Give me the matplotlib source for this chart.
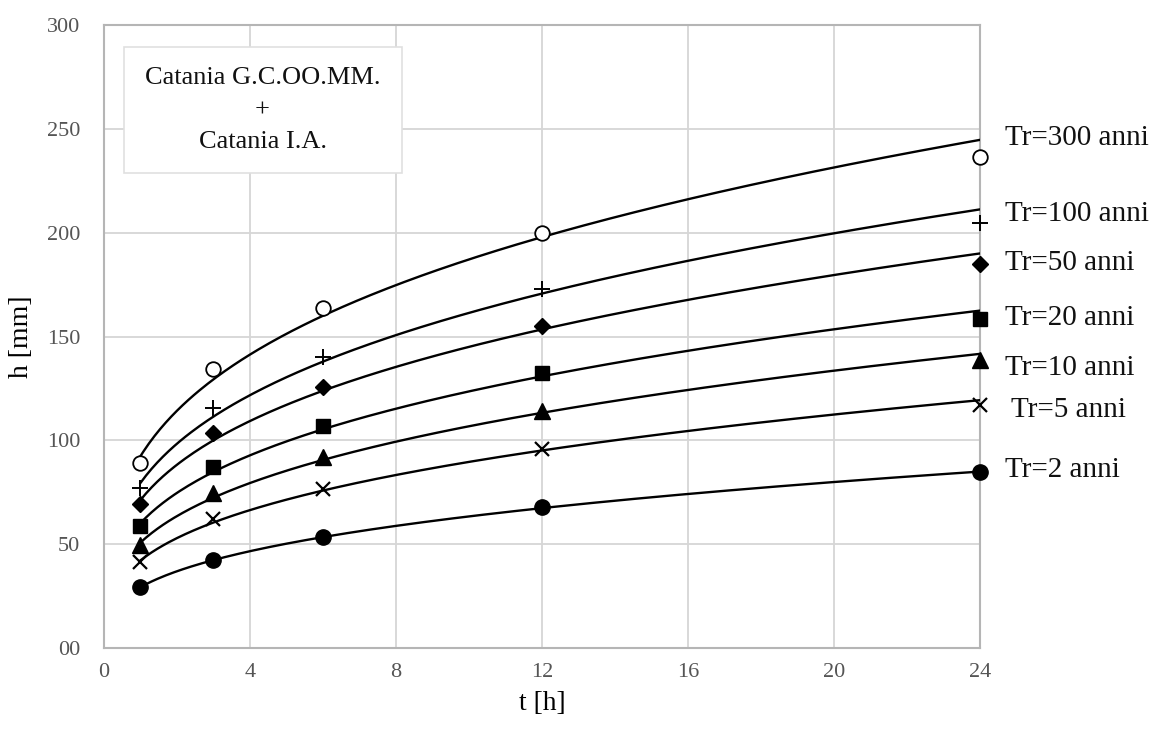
import numpy as np
import matplotlib
matplotlib.use("Agg")
import matplotlib.pyplot as plt
from matplotlib.patches import Rectangle

# durate [h]
t = np.array([1, 3, 6, 12, 24])

# altezze di pioggia [mm]
h_2 = [29.3, 42.3, 53.4, 67.8, 84.6]
h_5 = [41.3, 62.0, 76.4, 96.0, 117.0]
h_10 = [49.5, 74.5, 91.8, 114.0, 138.5]
h_20 = [58.7, 87.0, 106.7, 132.2, 158.6]
h_50 = [69.2, 103.4, 125.5, 155.0, 185.0]
h_100 = [77.0, 115.4, 140.0, 173.0, 204.8]
h_300 = [89.0, 134.6, 163.5, 200.0, 236.5]

etichette = ["Tr=2 anni", "Tr=5 anni", "Tr=10 anni", "Tr=20 anni",
             "Tr=50 anni", "Tr=100 anni", "Tr=300 anni"]
serie = [h_2, h_5, h_10, h_20, h_50, h_100, h_300]
# posizione verticale delle etichette a destra [mm]
etich_y = [85.6, 114.4, 135, 158.7, 185.6, 209, 245.7]

y_ticks = [0, 50, 100, 150, 200, 250, 300]
y_ticklab = ["00", "50", "100", "150", "200", "250", "300"]
x_ticks = [0, 4, 8, 12, 16, 20, 24]

# stile dei marker
stili = [
    dict(marker="o", ms=11, mfc="black", mec="black"),
    dict(marker="x", ms=10, mec="black", mew=1.6),
    dict(marker="^", ms=11, mfc="black", mec="black"),
    dict(marker="s", ms=10, mfc="black", mec="black"),
    dict(marker="D", ms=8.5, mfc="black", mec="black"),
    dict(marker="+", ms=12, mec="black", mew=1.4),
    dict(marker="o", ms=10.5, mfc="white", mec="black", mew=1.3),
]

serif = ["Liberation Serif", "DejaVu Serif"]

fig = plt.figure(figsize=(11.67, 7.30), dpi=100)
ax = fig.add_axes([0.0891, 0.1123, 0.7507, 0.8534])

tt = np.linspace(1, 24, 300)
for h, st in zip(serie, stili):
    # curva h = a t^n (regressione sui logaritmi)
    n, lna = np.polyfit(np.log(t), np.log(h), 1)
    ax.plot(tt, np.exp(lna) * tt**n, color="black", lw=1.7, zorder=3)
    ax.plot(t, h, linestyle="none", clip_on=False, zorder=4, **st)

for lab, y in zip(etichette, etich_y):
    dx = 24.85 if lab == "Tr=5 anni" else 24.68
    ax.text(dx, y, lab, fontsize=21, family=serif, ha="left", va="center",
            color="#111111")

ax.set_xlim(0, 24)
ax.set_ylim(0, 300)
ax.set_xticks(x_ticks)
ax.set_yticks(y_ticks)
ax.set_yticklabels(y_ticklab)
ax.tick_params(length=0, labelsize=16, labelcolor="#555555")
ax.tick_params(axis="y", pad=17)
ax.tick_params(axis="x", pad=11)
for lab in ax.get_xticklabels() + ax.get_yticklabels():
    lab.set_family(serif)
ax.grid(True, color="#d6d6d6", lw=1.3)
ax.set_axisbelow(True)
for sp in ax.spines.values():
    sp.set_color("#b5b5b5")
    sp.set_linewidth(1.5)

ax.set_xlabel("t [h]", fontsize=20, family=serif, labelpad=6)
ax.set_ylabel("h [mm]", fontsize=20, family=serif, labelpad=9)

# riquadro con le stazioni
ax.add_patch(Rectangle((0.0228, 0.7624), 0.317, 0.2023, transform=ax.transAxes,
                       facecolor="white", edgecolor="#e0e0e0", lw=1.2, zorder=2))
ax.text(0.181, 0.8635, "Catania G.C.OO.MM.\n+\nCatania I.A.", transform=ax.transAxes,
        fontsize=19, family=serif, ha="center", va="center", linespacing=1.6,
        zorder=5, color="#111111")

fig.savefig("out.png", dpi=100)
